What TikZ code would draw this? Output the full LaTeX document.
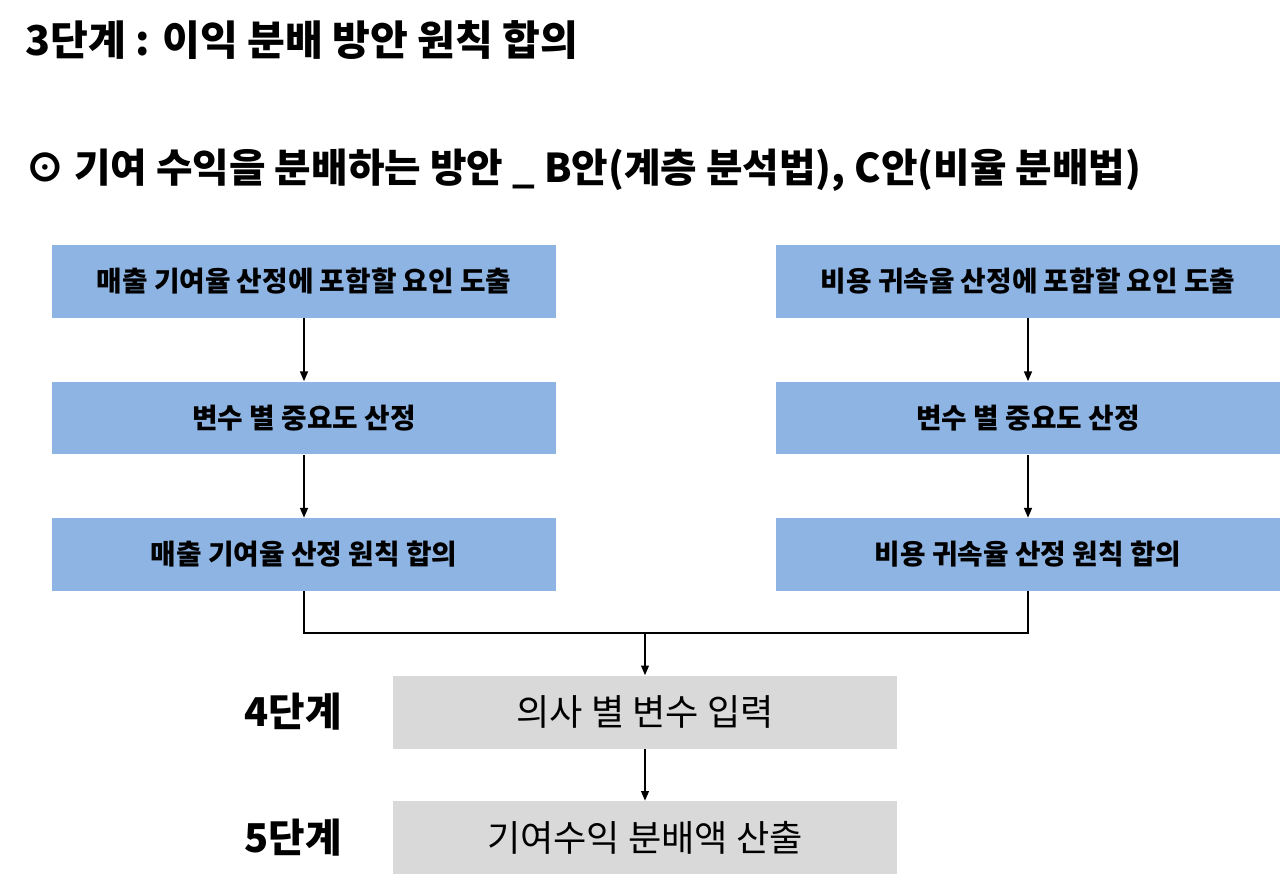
\documentclass[tikz,border=0pt]{standalone}
\usepackage{fontspec}
\setmainfont{Noto Sans CJK KR}
\usepackage{tikz}
\usetikzlibrary{arrows.meta}

\definecolor{planblue}{HTML}{8EB4E3}
\definecolor{resultgrey}{HTML}{D9D9D9}

\begin{document}
\begin{tikzpicture}[x=0.02cm, y=-0.02cm,
    plan/.style = {fill=planblue, minimum width=10.08cm, minimum height=1.46cm, inner sep=0pt,
                   font=\fontsize{15.8pt}{17pt}\selectfont\bfseries},
    result/.style = {fill=resultgrey, minimum width=10.08cm, minimum height=1.46cm, inner sep=0pt,
                     font=\fontsize{20.6pt}{22pt}\selectfont},
    stage/.style = {inner sep=0pt, font=\fontsize{22.6pt}{24pt}\selectfont\bfseries},
    flow/.style = {line width=0.8pt, -{Triangle[length=5.5pt, width=4.5pt]}}]
                \useasboundingbox (0,0) rectangle (1280,882);

                \node[stage, anchor=west, font=\fontsize{23.4pt}{25pt}\selectfont\bfseries] at (25,40) (title) {3단계 : 이익 분배 방안 원칙 합의};
                \node[stage, anchor=west] at (25,170) (subtitle) {⊙ 기여 수익을 분배하는 방안 \_ B안(계층 분석법), C안(비율 분배법)};

                % B안
                \node[plan] at (304,281.5) (l1) {매출 기여율 산정에 포함할 요인 도출};
                \node[plan] at (304,418) (l2) {변수 별 중요도 산정};
                \node[plan] at (304,554.5) (l3) {매출 기여율 산정 원칙 합의};

                % C안
                \node[plan] at (1028,281.5) (r1) {비용 귀속율 산정에 포함할 요인 도출};
                \node[plan] at (1028,418) (r2) {변수 별 중요도 산정};
                \node[plan] at (1028,554.5) (r3) {비용 귀속율 산정 원칙 합의};

                \node[result] at (645,712) (input) {의사 별 변수 입력};
                \node[result] at (645,837.5) (payout) {기여수익 분배액 산출};
                \node[stage] at (293,712) (step4) {4단계};
                \node[stage] at (293,838) (step5) {5단계};

                \coordinate (join) at (645,633);

                \draw[flow] (l1) -- (l2);
                \draw[flow] (l2) -- (l3);
                \draw[flow] (r1) -- (r2);
                \draw[flow] (r2) -- (r3);

                \draw[line width=0.8pt] (l3.south) |- (join) -| (r3.south);
                \draw[flow] (join) -- (input);
                \draw[flow] (input) -- (payout);
\end{tikzpicture}
\end{document}
